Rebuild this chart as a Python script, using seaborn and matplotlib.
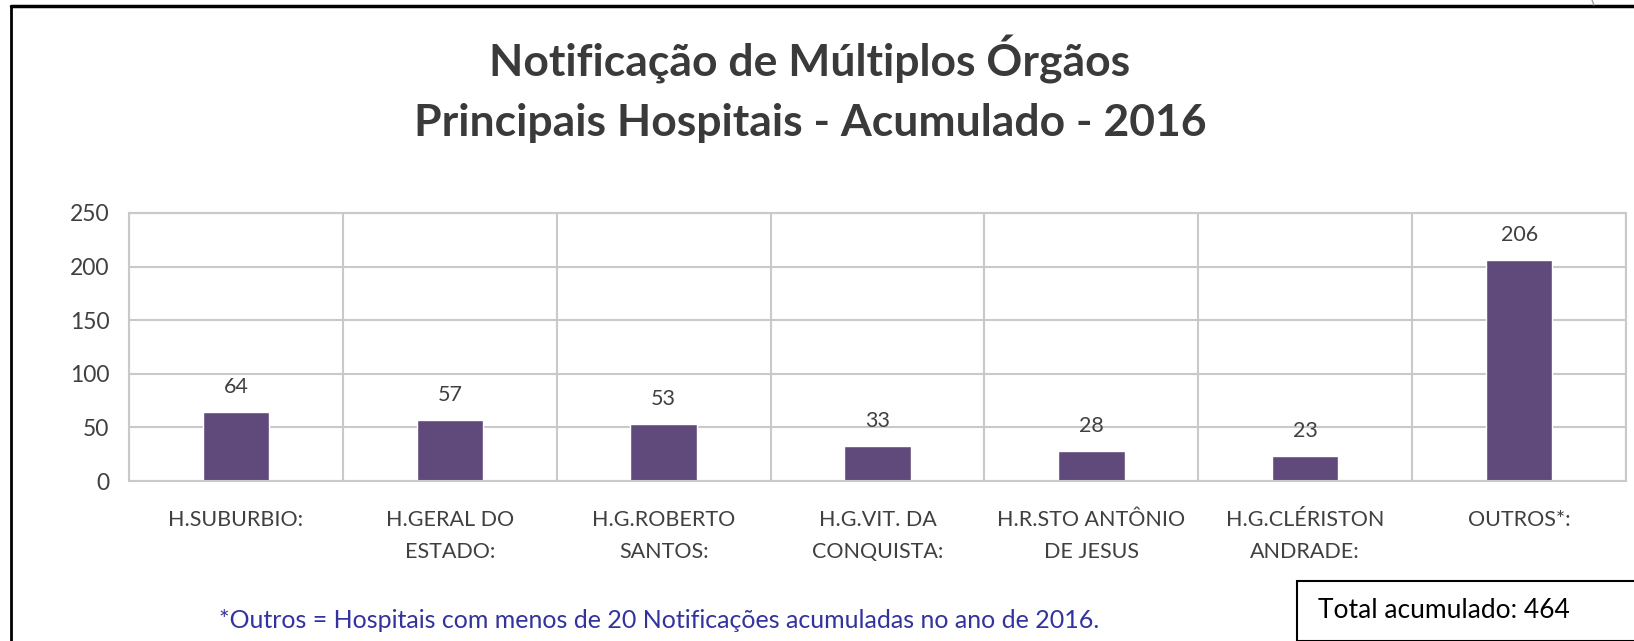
import numpy as np
import pandas as pd
import matplotlib
matplotlib.use('Agg')
import matplotlib.pyplot as plt
import seaborn as sns

# dados
hospitais = ['H.SUBURBIO:', 'H.GERAL DO\nESTADO:', 'H.G.ROBERTO\nSANTOS:',
             'H.G.VIT. DA\nCONQUISTA:', 'H.R.STO ANTÔNIO\nDE JESUS',
             'H.G.CLÉRISTON\nANDRADE:', 'OUTROS*:']
notificacoes = [64, 57, 53, 33, 28, 23, 206]
y_ticks = [0, 50, 100, 150, 200, 250]
total = 464

sns.set_theme(style='white')
plt.rcParams['font.family'] = ['Lato', 'DejaVu Sans']

COR_BARRA = '#604A7B'
COR_TEXTO = '#404040'
COR_GRADE = '#C9C9C9'

W, H = 1634, 641
fig = plt.figure(figsize=(W / 100, H / 100), dpi=100)
fig.patch.set_facecolor('white')

ax = fig.add_axes([129 / W, 1 - 481 / H, (1626 - 129) / W, (481 - 213) / H])
df = pd.DataFrame({'hospital': hospitais, 'n': notificacoes})
sns.barplot(data=df, x='hospital', y='n', color=COR_BARRA, saturation=1,
            width=0.31, ax=ax)

ax.set_xlim(-0.5, len(hospitais) - 0.5)
ax.set_ylim(0, 250)
ax.set_yticks(y_ticks)
ax.set_xlabel('')
ax.set_ylabel('')

# grade horizontal e vertical (entre categorias)
ax.set_xticks(np.arange(-0.5, len(hospitais)), minor=True)
ax.grid(axis='y', which='major', color=COR_GRADE, lw=1.5)
ax.grid(axis='x', which='minor', color=COR_GRADE, lw=1.5)
ax.grid(axis='x', which='major', visible=False)
ax.set_axisbelow(True)
for s in ax.spines.values():
    s.set_color(COR_GRADE)
    s.set_linewidth(1.5)

ax.tick_params(axis='both', which='both', length=0)
ax.tick_params(axis='y', pad=14, labelsize=16.5, labelcolor=COR_TEXTO)
ax.tick_params(axis='x', pad=21, labelsize=15.5, labelcolor=COR_TEXTO)
for lbl in ax.get_xticklabels():
    lbl.set_linespacing(1.75)

# rótulos de dados
for i, v in enumerate(notificacoes):
    ax.annotate(str(v), (i, v), xytext=(0, 18), textcoords='offset points',
                ha='center', va='center', fontsize=15.5, color=COR_TEXTO)

# título
fig.text(810 / W, 1 - 59 / H, 'Notificação de Múltiplos Órgãos',
         ha='center', va='center', fontsize=32, fontweight='bold', color='#3A3A3A')
fig.text(810 / W, 1 - 123 / H, 'Principais Hospitais - Acumulado - 2016',
         ha='center', va='center', fontsize=32, fontweight='bold', color='#3A3A3A')

# nota de rodapé
fig.text(659 / W, 1 - 620 / H,
         '*Outros = Hospitais com menos de 20 Notificações acumuladas no ano de 2016.',
         ha='center', va='center', fontsize=18, color='#3333A0')

# caixa do total
caixa = plt.Rectangle((1297 / W, 0), (W - 1297) / W + 0.01, (H - 581) / H,
                      transform=fig.transFigure, fill=False, edgecolor='black',
                      lw=1.5, clip_on=False)
fig.patches.append(caixa)
fig.text(1318 / W, 1 - 610 / H, f'Total acumulado: {total}', ha='left', va='center',
         fontsize=19, color='black')

# moldura do gráfico
fig.add_artist(plt.Line2D([11 / W, 11 / W], [0, 1 - 6 / H], color='black', lw=2,
                          transform=fig.transFigure))
fig.add_artist(plt.Line2D([11 / W, 1], [1 - 6 / H, 1 - 6 / H], color='black', lw=2.5,
                          transform=fig.transFigure))
fig.add_artist(plt.Line2D([1592 / W, 1594 / W], [1, 1 - 5 / H], color='#A0A0A0', lw=1,
                          transform=fig.transFigure))

fig.savefig('out.png', dpi=100)
